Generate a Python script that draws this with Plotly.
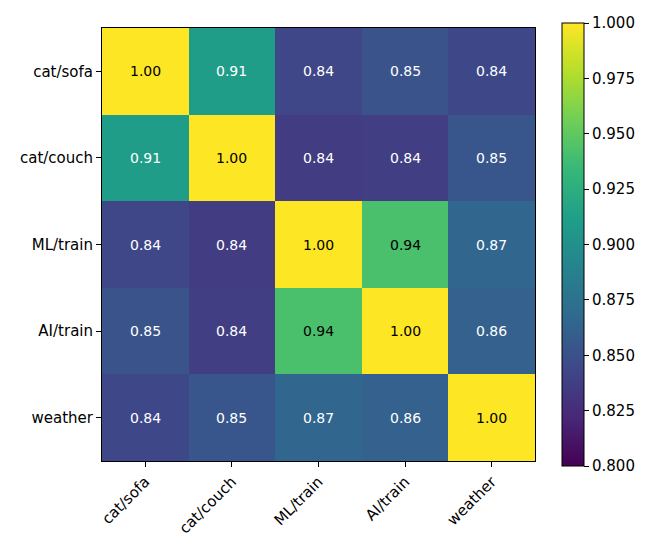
import plotly.graph_objects as go

labels = ["cat/sofa", "cat/couch", "ML/train", "AI/train", "weather"]
row_cat_sofa = [1.000, 0.910, 0.843, 0.852, 0.844]
row_cat_couch = [0.910, 1.000, 0.836, 0.837, 0.854]
row_ml_train = [0.843, 0.836, 1.000, 0.942, 0.866]
row_ai_train = [0.852, 0.837, 0.942, 1.000, 0.862]
row_weather = [0.844, 0.854, 0.866, 0.862, 1.000]
z = [row_cat_sofa, row_cat_couch, row_ml_train, row_ai_train, row_weather]
cbar_ticks = [0.800, 0.825, 0.850, 0.875, 0.900, 0.925, 0.950, 0.975, 1.000]

FONT = "DejaVu Sans"

fig = go.Figure(go.Heatmap(
    z=z, x=labels, y=labels,
    colorscale="Viridis", zmin=0.8, zmax=1.0,
    xgap=0, ygap=0,
    hoverinfo="skip",
    colorbar=dict(
        x=(562 - 102) / 433, xanchor="left", xpad=0,
        y=0.5, yanchor="middle", ypad=0,
        thickness=22, lenmode="pixels", len=443,
        outlinewidth=1, outlinecolor="black",
        tickmode="array", tickvals=cbar_ticks,
        ticktext=[f"{v:.3f}" for v in cbar_ticks],
        ticks="outside", ticklen=5, tickwidth=1, tickcolor="black",
        tickfont=dict(family=FONT, size=15, color="black"),
    ),
))

annotations = []
for i, rl in enumerate(labels):
    for j, cl in enumerate(labels):
        v = z[i][j]
        annotations.append(dict(
            x=cl, y=rl, xref="x", yref="y", text=f"{v:.2f}", showarrow=False,
            font=dict(family=FONT, size=14, color="black" if v > 0.92 else "white"),
        ))

fig.update_layout(
    width=660, height=550,
    margin=dict(l=102, r=125, t=28, b=89, pad=0),
    paper_bgcolor="white", plot_bgcolor="white",
    font=dict(family=FONT, size=15, color="black"),
    annotations=annotations,
    xaxis=dict(
        tickangle=-45, ticks="outside", ticklen=5, tickwidth=1, tickcolor="black",
        showline=True, linecolor="black", linewidth=1, mirror=True,
        showgrid=False, zeroline=False,
        tickfont=dict(family=FONT, size=15, color="black"),
    ),
    yaxis=dict(
        autorange="reversed", ticks="outside", ticklen=5, tickwidth=1, tickcolor="black",
        showline=True, linecolor="black", linewidth=1, mirror=True,
        showgrid=False, zeroline=False,
        tickfont=dict(family=FONT, size=15, color="black"),
    ),
)

fig.write_html("out.html")
